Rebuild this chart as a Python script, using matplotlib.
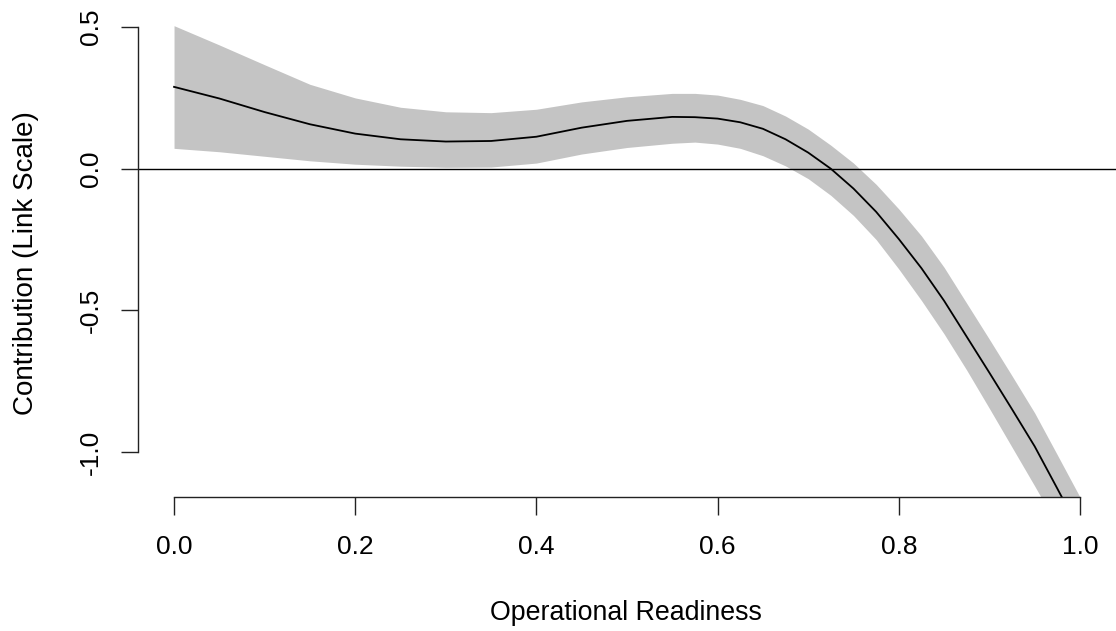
import matplotlib
matplotlib.use("Agg")
import matplotlib.pyplot as plt

plt.rcParams['font.family'] = ['Liberation Sans', 'DejaVu Sans']

readiness = [0.00, 0.05, 0.10, 0.15, 0.20, 0.25, 0.30, 0.35, 0.40, 0.45, 0.50, 0.55,
             0.575, 0.60, 0.625, 0.65, 0.675, 0.70, 0.725, 0.75, 0.775, 0.80,
             0.825, 0.85, 0.875, 0.90, 0.925, 0.95, 0.975, 1.00]
fit = [0.289, 0.248, 0.200, 0.157, 0.124, 0.104, 0.096, 0.098, 0.113, 0.145, 0.169, 0.183,
       0.182, 0.177, 0.164, 0.141, 0.104, 0.057, 0.000, -0.070, -0.152, -0.248,
       -0.351, -0.466, -0.593, -0.720, -0.849, -0.980, -1.129, -1.280]
lower = [0.072, 0.060, 0.044, 0.028, 0.016, 0.009, 0.005, 0.006, 0.020, 0.052, 0.075, 0.090,
         0.094, 0.087, 0.072, 0.046, 0.010, -0.035, -0.094, -0.165, -0.250, -0.354,
         -0.465, -0.583, -0.711, -0.846, -0.983, -1.120, -1.260, -1.400]
upper = [0.505, 0.437, 0.367, 0.298, 0.250, 0.217, 0.201, 0.198, 0.210, 0.236, 0.254, 0.266,
         0.266, 0.260, 0.245, 0.223, 0.186, 0.140, 0.083, 0.020, -0.055, -0.142,
         -0.237, -0.348, -0.475, -0.602, -0.731, -0.862, -1.010, -1.159]

xticks = [0.0, 0.2, 0.4, 0.6, 0.8, 1.0]
xticklabels = ["0.0", "0.2", "0.4", "0.6", "0.8", "1.0"]
yticks = [-1.0, -0.5, 0.0, 0.5]
yticklabels = ["-1.0", "-0.5", "0.0", "0.5"]

W, H = 1116, 631
ax_l, ax_r, ax_t, ax_b = 137.8, 1116.2, 10.1, 497.0
fig = plt.figure(figsize=(W / 100, H / 100), dpi=100)
ax = fig.add_axes([ax_l / W, 1 - ax_b / H, (ax_r - ax_l) / W, (ax_b - ax_t) / H])

ax.fill_between(readiness, lower, upper, color="#C4C4C4", linewidth=0)
ax.plot(readiness, fit, color="black", linewidth=1.3)
ax.axhline(0, color="black", linewidth=1.0)

ax.set_xlim(-0.04, 1.04)
ax.set_ylim(-1.1588, 0.56)

for s in ["top", "right"]:
    ax.spines[s].set_visible(False)
ax.spines["left"].set_bounds(-1.0, 0.5)
ax.spines["bottom"].set_bounds(0.0, 1.0)
for s in ["left", "bottom"]:
    ax.spines[s].set_linewidth(1.0)
    ax.spines[s].set_color("#222222")

ax.set_xticks(xticks)
ax.set_xticklabels(xticklabels)
ax.set_yticks(yticks)
ax.set_yticklabels(yticklabels, rotation=90, va="center")
ax.tick_params(axis="x", length=13, width=1.0, pad=14, labelsize=19, color="#222222")
ax.tick_params(axis="y", length=12, width=1.0, pad=13, labelsize=19, color="#222222")

ax.set_xlabel("Operational Readiness", fontsize=19.3, va="center")
ax.set_ylabel("Contribution (Link Scale)", fontsize=20, va="center")
ax.xaxis.set_label_coords((626 - ax_l) / (ax_r - ax_l), (ax_b - 613.5) / (ax_b - ax_t))
ax.yaxis.set_label_coords((26 - ax_l) / (ax_r - ax_l), (ax_b - 263) / (ax_b - ax_t))

fig.savefig("out.png", dpi=100)
